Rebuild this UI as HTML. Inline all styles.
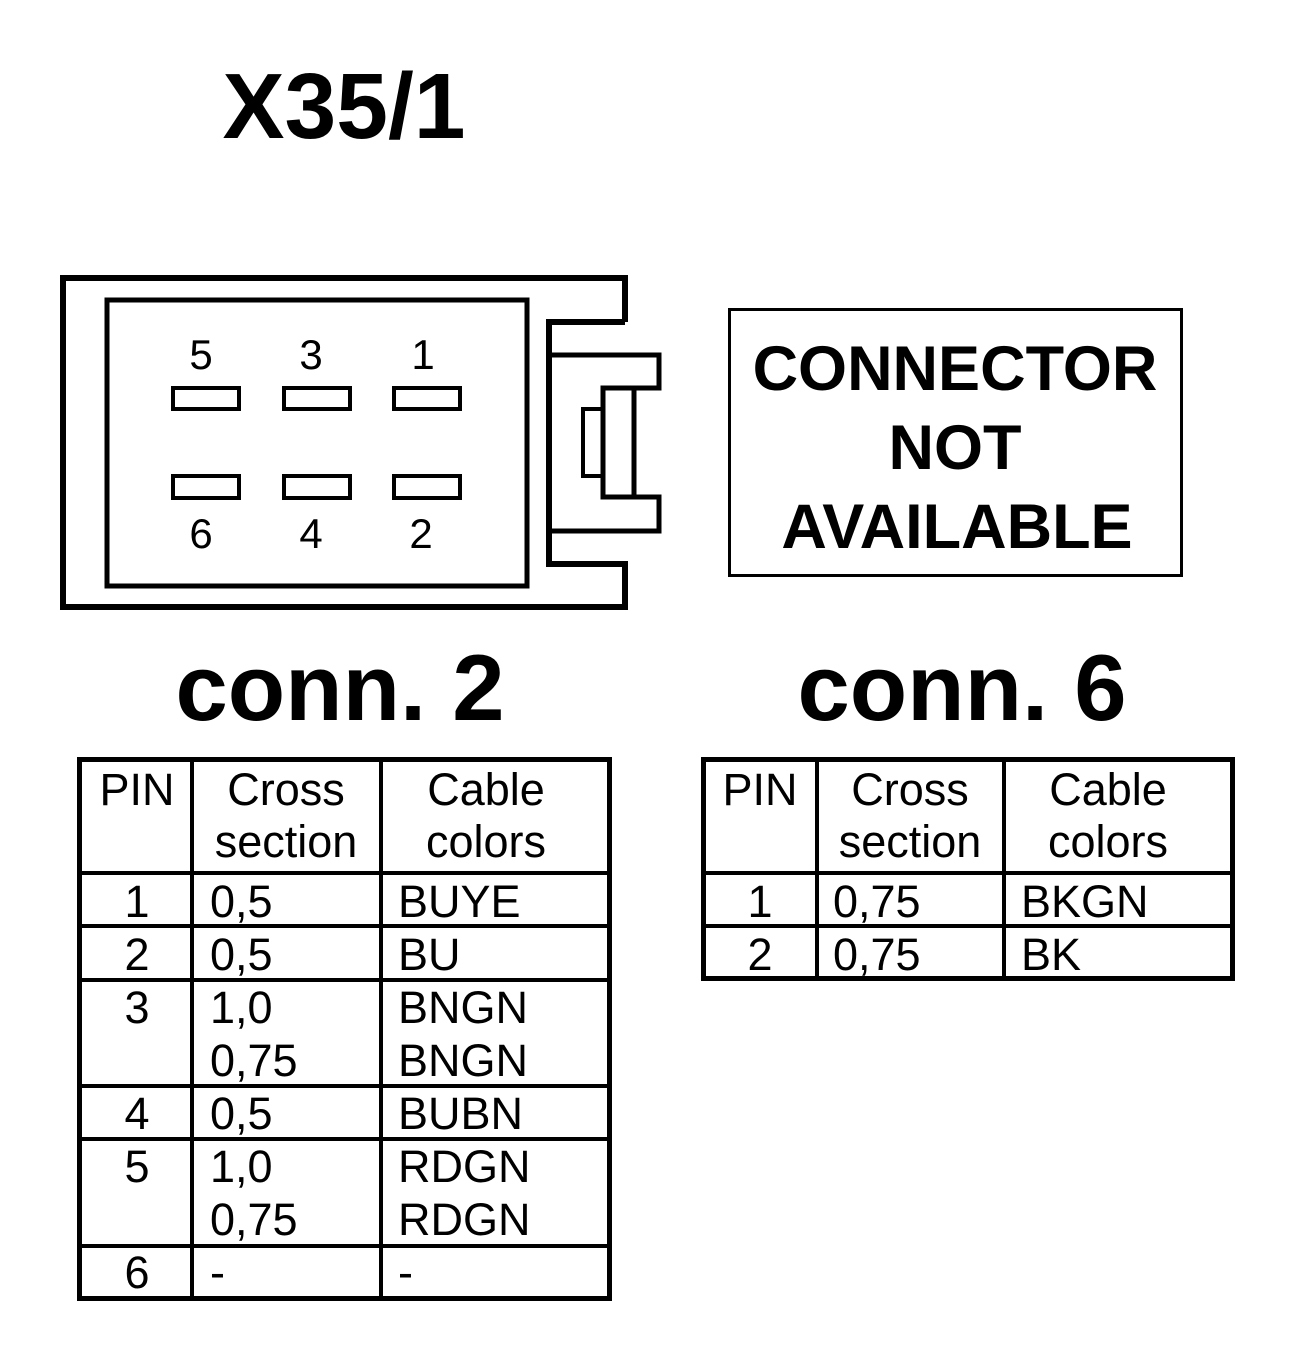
<!DOCTYPE html>
<html><head><meta charset="utf-8"><style>
html,body{margin:0;padding:0;background:#fff}
svg{display:block}
text{font-family:"Liberation Sans",Arial,sans-serif;fill:#000}
</style></head><body>
<svg width="1312" height="1360" viewBox="0 0 1312 1360" xmlns="http://www.w3.org/2000/svg">
<rect width="1312" height="1360" fill="#fff"/>
<text x="344" y="138" font-size="93" font-weight="bold" text-anchor="middle">X35/1</text>

<g fill="none" stroke="#000" stroke-width="6">
<polyline points="625,322 625,278 63,278 63,607 625,607 625,564 549,564 549,322 625,322"/>
<polyline points="549,355 659,355 659,388 603,388 603,497 659,497 659,531 549,531" stroke-width="5"/>
<line x1="634" y1="388" x2="634" y2="497" stroke-width="5"/>
<rect x="583" y="409" width="20" height="67" stroke-width="4"/>
<rect x="107" y="300" width="420" height="286" stroke-width="5"/>
<g stroke-width="4">
<rect x="173" y="388" width="66" height="21"/>
<rect x="284" y="388" width="66" height="21"/>
<rect x="394" y="388" width="66" height="21"/>
<rect x="173" y="476" width="66" height="22"/>
<rect x="284" y="476" width="66" height="22"/>
<rect x="394" y="476" width="66" height="22"/>
</g>
</g>
<g font-size="42" text-anchor="middle">
<text x="201" y="369">5</text><text x="311" y="369">3</text><text x="423" y="369">1</text>
<text x="201" y="548">6</text><text x="311" y="548">4</text><text x="421" y="548">2</text>
</g>

<rect x="729.5" y="309.5" width="452" height="266" fill="none" stroke="#000" stroke-width="3"/>
<g font-size="63" font-weight="bold" text-anchor="middle">
<text x="955" y="390">CONNECTOR</text>
<text x="955" y="469">NOT</text>
<text x="957" y="548">AVAILABLE</text>
</g>

<g font-size="94" font-weight="bold" text-anchor="middle">
<text x="340" y="720">conn. 2</text>
<text x="962" y="720">conn. 6</text>
</g>

<g stroke="#000" fill="none">
<rect x="79.5" y="759.5" width="530" height="539" stroke-width="5"/>
<g stroke-width="4">
<line x1="192" y1="759" x2="192" y2="1298"/>
<line x1="381" y1="759" x2="381" y2="1298"/>
<line x1="79" y1="873" x2="610" y2="873"/>
<line x1="79" y1="926" x2="610" y2="926"/>
<line x1="79" y1="980" x2="610" y2="980"/>
<line x1="79" y1="1086" x2="610" y2="1086"/>
<line x1="79" y1="1139" x2="610" y2="1139"/>
<line x1="79" y1="1246" x2="610" y2="1246"/>
</g>
</g>
<g font-size="45">
<text x="137" y="805" text-anchor="middle">PIN</text>
<text x="286" y="805" text-anchor="middle">Cross</text>
<text x="286" y="857" text-anchor="middle">section</text>
<text x="486" y="805" text-anchor="middle">Cable</text>
<text x="486" y="857" text-anchor="middle">colors</text>
<text x="137" y="917" text-anchor="middle">1</text><text x="210" y="917">0,5</text><text x="398" y="917">BUYE</text>
<text x="137" y="970" text-anchor="middle">2</text><text x="210" y="970">0,5</text><text x="398" y="970">BU</text>
<text x="137" y="1023" text-anchor="middle">3</text><text x="210" y="1023">1,0</text><text x="398" y="1023">BNGN</text>
<text x="210" y="1076">0,75</text><text x="398" y="1076">BNGN</text>
<text x="137" y="1129" text-anchor="middle">4</text><text x="210" y="1129">0,5</text><text x="398" y="1129">BUBN</text>
<text x="137" y="1182" text-anchor="middle">5</text><text x="210" y="1182">1,0</text><text x="398" y="1182">RDGN</text>
<text x="210" y="1235">0,75</text><text x="398" y="1235">RDGN</text>
<text x="137" y="1288" text-anchor="middle">6</text><text x="210" y="1288">-</text><text x="398" y="1288">-</text>
</g>

<g stroke="#000" fill="none">
<rect x="703.5" y="759.5" width="529" height="219" stroke-width="5"/>
<g stroke-width="4">
<line x1="817" y1="759" x2="817" y2="978"/>
<line x1="1004" y1="759" x2="1004" y2="978"/>
<line x1="703" y1="873" x2="1233" y2="873"/>
<line x1="703" y1="926" x2="1233" y2="926"/>
</g>
</g>
<g font-size="45">
<text x="760" y="805" text-anchor="middle">PIN</text>
<text x="910" y="805" text-anchor="middle">Cross</text>
<text x="910" y="857" text-anchor="middle">section</text>
<text x="1108" y="805" text-anchor="middle">Cable</text>
<text x="1108" y="857" text-anchor="middle">colors</text>
<text x="760" y="917" text-anchor="middle">1</text><text x="833" y="917">0,75</text><text x="1021" y="917">BKGN</text>
<text x="760" y="970" text-anchor="middle">2</text><text x="833" y="970">0,75</text><text x="1021" y="970">BK</text>
</g>
</svg>
</body></html>
